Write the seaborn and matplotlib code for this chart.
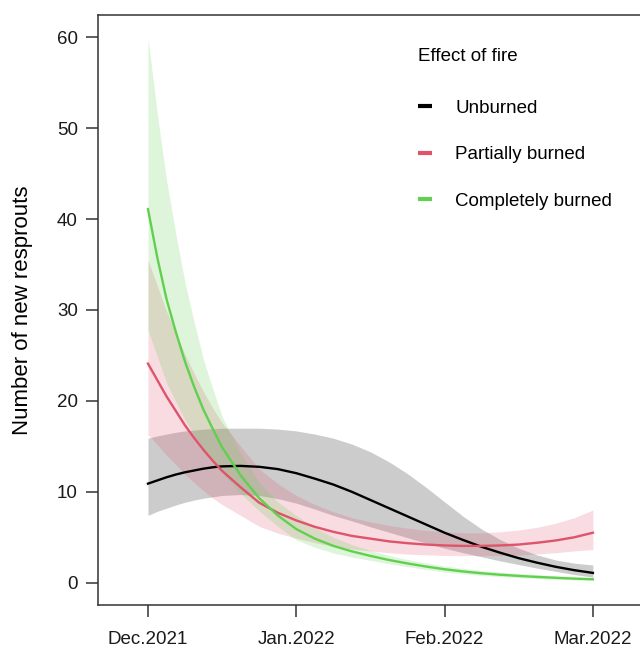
import numpy as np
import pandas as pd
import matplotlib
matplotlib.use("Agg")
import matplotlib.pyplot as plt
import seaborn as sns

# ---- data ----
month_pos = [0, 0.0625, 0.125, 0.1875, 0.25, 0.3125, 0.375, 0.4375, 0.5, 0.625, 0.75, 0.875,
             1.0, 1.125, 1.25, 1.375, 1.5, 1.625, 1.75, 1.875, 2.0, 2.125, 2.25, 2.375,
             2.5, 2.625, 2.75, 2.875, 3.0]
tick_labels = ["Dec.2021", "Jan.2022", "Feb.2022", "Mar.2022"]
groups = ["Unburned", "Partially burned", "Completely burned"]

unburned_fit = [10.9, 11.25, 11.6, 11.9, 12.15, 12.35, 12.55, 12.7, 12.8, 12.85, 12.75, 12.5,
                12.05, 11.45, 10.8, 10.0, 9.1, 8.2, 7.3, 6.4, 5.5, 4.7, 3.95, 3.3,
                2.7, 2.2, 1.75, 1.38, 1.08]
unburned_hi = [15.9, 16.15, 16.35, 16.55, 16.7, 16.8, 16.9, 16.95, 17.0, 17.0, 17.0, 16.9,
               16.7, 16.35, 15.9, 15.25, 14.4, 13.3, 12.0, 10.5, 8.9, 7.3, 5.9, 4.75,
               3.8, 3.05, 2.5, 2.15, 1.95]
unburned_lo = [7.4, 7.85, 8.2, 8.55, 8.85, 9.1, 9.3, 9.45, 9.6, 9.7, 9.6, 9.25,
               8.75, 8.1, 7.4, 6.8, 6.15, 5.55, 4.95, 4.35, 3.8, 3.3, 2.85, 2.4,
               2.0, 1.6, 1.25, 0.9, 0.62]

partial_fit = [24.1, 22.3, 20.5, 18.9, 17.3, 15.9, 14.6, 13.4, 12.3, 10.5, 8.8, 7.7,
               6.85, 6.15, 5.6, 5.15, 4.85, 4.55, 4.35, 4.2, 4.1, 4.05, 4.05, 4.1,
               4.2, 4.4, 4.65, 5.0, 5.5]
partial_hi = [35.5, 32.7, 29.9, 27.5, 25.1, 23.0, 21.0, 19.2, 17.6, 15.0, 12.5, 10.9,
              9.6, 8.6, 7.8, 7.15, 6.7, 6.3, 6.0, 5.75, 5.6, 5.5, 5.5, 5.6,
              5.8, 6.1, 6.55, 7.15, 8.0]
partial_lo = [16.3, 15.2, 14.0, 13.0, 11.9, 11.0, 10.1, 9.3, 8.6, 7.4, 6.2, 5.45,
              4.9, 4.4, 4.0, 3.7, 3.5, 3.3, 3.15, 3.07, 3.0, 2.98, 2.98, 3.0,
              3.05, 3.17, 3.3, 3.5, 3.65]

complete_fit = [41.1, 35.8, 31.2, 27.6, 24.3, 21.5, 19.0, 16.9, 14.9, 11.8, 9.3, 7.4,
                5.9, 4.85, 4.05, 3.45, 2.95, 2.5, 2.12, 1.78, 1.48, 1.24, 1.04, 0.88,
                0.75, 0.64, 0.54, 0.45, 0.38]
complete_hi = [60.0, 51.6, 44.3, 38.4, 33.0, 28.6, 24.5, 21.3, 18.3, 14.2, 11.0, 8.9,
               7.4, 6.05, 5.0, 4.2, 3.55, 3.0, 2.55, 2.17, 1.85, 1.59, 1.35, 1.17,
               1.03, 0.9, 0.78, 0.68, 0.59]
complete_lo = [27.8, 24.9, 22.0, 19.9, 17.9, 16.2, 14.7, 13.4, 12.1, 9.8, 7.9, 6.2,
               4.7, 3.9, 3.27, 2.83, 2.46, 2.08, 1.77, 1.46, 1.18, 0.97, 0.8, 0.66,
               0.55, 0.46, 0.38, 0.3, 0.25]

colors = ["#000000", "#DF536B", "#61D04F"]

fits = [unburned_fit, partial_fit, complete_fit]
his = [unburned_hi, partial_hi, complete_hi]
los = [unburned_lo, partial_lo, complete_lo]

df = pd.concat([
    pd.DataFrame({"month": month_pos, "fit": f, "lo": l, "hi": h, "fire": g})
    for g, f, l, h in zip(groups, fits, los, his)
], ignore_index=True)

plt.rcParams["font.family"] = ["Liberation Sans", "DejaVu Sans"]

fig = plt.figure(figsize=(6.4, 6.48), dpi=100)
ax = fig.add_axes([98 / 640, 43 / 648, 545 / 640, 590 / 648])

for g, c in zip(groups, colors):
    sub = df[df["fire"] == g]
    ax.fill_between(sub["month"], sub["lo"], sub["hi"], color=c, alpha=0.2, linewidth=0)

sns.lineplot(data=df, x="month", y="fit", hue="fire", hue_order=groups,
             palette=colors, linewidth=1.7, ax=ax, legend=True)

ax.set_xlim(-0.337, 3.338)
ax.set_ylim(-2.45, 62.45)
ax.set_xticks([0, 1, 2, 3])
ax.set_xticklabels(tick_labels)
ax.set_yticks([0, 10, 20, 30, 40, 50, 60])
ax.set_xlabel("")
ax.set_ylabel("Number of new resprouts", fontsize=16, labelpad=17.5)
ax.tick_params(axis="both", direction="out", length=8.5, width=1.1,
               color="#333333", labelsize=13.5, pad=6, labelcolor="#1a1a1a")
ax.tick_params(axis="x", pad=10)
for s in ["left", "bottom", "top"]:
    ax.spines[s].set_color("#333333")
    ax.spines[s].set_linewidth(1.1)
ax.spines["right"].set_visible(False)

handles, labels = ax.get_legend_handles_labels()
leg = ax.legend(handles, labels, title="Effect of fire", frameon=False,
                loc="upper left", bbox_to_anchor=(418 / 640, 1 - 48 / 648),
                bbox_transform=fig.transFigure, borderpad=0, borderaxespad=0,
                fontsize=13.5, title_fontsize=13.5, handlelength=0.75,
                handletextpad=1.23, labelspacing=1.57, alignment="left")
leg._legend_box.sep = 1.57 * 13.5 + 3.6
for lh in leg.get_lines():
    lh.set_linewidth(3)
    lh.set_solid_capstyle("butt")

fig.savefig("out.png", dpi=100)
